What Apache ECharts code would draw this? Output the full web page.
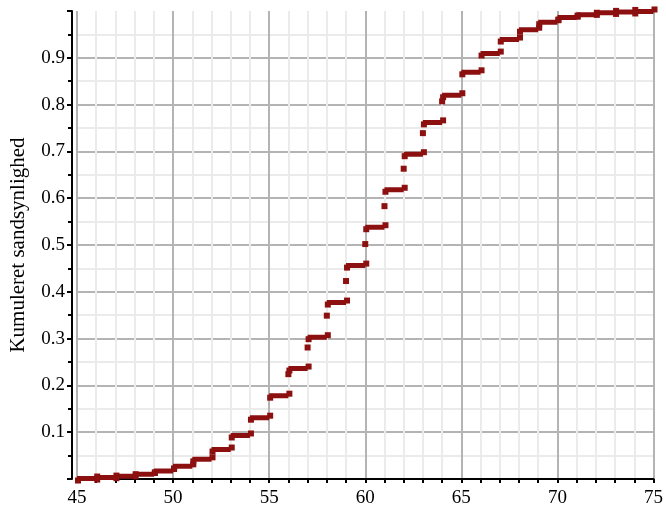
<!DOCTYPE html>
<html>
<head>
<meta charset="utf-8">
<script src="https://cdn.jsdelivr.net/npm/echarts@6/dist/echarts.min.js"></script>
<style>
  html, body { margin: 0; padding: 0; background: #fff; }
  #cdf-chart { width: 666px; height: 508px; }
</style>
</head>
<body>
<div id="cdf-chart"></div>
<script>
// trappernes startpunkter (heltal) og niveau for hvert trin
const stepStart = [45, 46, 47, 48, 49, 50, 51, 52, 53, 54, 55, 56, 57, 58, 59,
  60, 61, 62, 63, 64, 65, 66, 67, 68, 69, 70, 71, 72, 73, 74];
const stepLevel = [0.001, 0.003, 0.006, 0.010, 0.017, 0.027, 0.042, 0.063, 0.093, 0.131,
  0.178, 0.236, 0.303, 0.377, 0.456, 0.538, 0.618, 0.694, 0.762, 0.820,
  0.869, 0.909, 0.939, 0.960, 0.976, 0.986, 0.992, 0.996, 0.998, 0.999];
// enkeltpunkter midt i de store spring
const jumpX = [56, 57, 58, 59, 60, 61, 62, 63, 64];
const jumpY = [0.224, 0.281, 0.349, 0.423, 0.502, 0.583, 0.663, 0.739, 0.807];

const xMin = 45, xMax = 75, xStep = 5;
const yMin = 0, yMax = 1, yStep = 0.1;

const red = "#8c1010";
const font = "Liberation Serif";

let chart = echarts.init(document.getElementById("cdf-chart"));

// vandrette stykker, brudt med "-" så der ikke tegnes lodrette linjer.
// endepunkterne vises som små firkanter, lidt forskudt (start ned, slut op)
let stepData = [];
stepStart.forEach((x, i) => {
  stepData.push({ value: [x, stepLevel[i]], symbolOffset: [1, 2] });
  stepData.push({ value: [x + 1, stepLevel[i]], symbolOffset: [1, -2] });
  stepData.push("-");
});

let option = {
  animation: false,
  grid: {
    left: 76,
    right: 8,
    top: 11,
    bottom: 29
  },
  xAxis: {
    type: "value",
    min: xMin,
    max: xMax,
    interval: xStep,
    offset: 4,
    axisLine: { lineStyle: { color: "#000", width: 2 } },
    axisTick: { length: 4, lineStyle: { color: "#000", width: 2 } },
    minorTick: { show: true, splitNumber: 5, length: 4, lineStyle: { color: "#000", width: 2 } },
    axisLabel: { color: "#000", fontFamily: font, fontSize: 19, margin: 6 },
    splitLine: { lineStyle: { color: "#b4b4b4", width: 2 } },
    minorSplitLine: { show: true, lineStyle: { color: "#ebebeb", width: 2 } }
  },
  yAxis: {
    type: "value",
    min: yMin,
    max: yMax,
    interval: yStep,
    offset: 5,
    name: "Kumuleret sandsynlighed",
    nameLocation: "middle",
    nameGap: 43,
    nameTextStyle: { color: "#000", fontFamily: font, fontSize: 21 },
    axisLine: { show: true, lineStyle: { color: "#000", width: 2 } },
    axisTick: { show: true, length: 5, lineStyle: { color: "#000", width: 2 } },
    minorTick: { show: true, splitNumber: 2, length: 4, lineStyle: { color: "#000", width: 2 } },
    axisLabel: {
      color: "#000",
      fontFamily: font,
      fontSize: 19,
      margin: 7,
      showMinLabel: false,
      showMaxLabel: false
    },
    splitLine: { showMaxLine: false, lineStyle: { color: "#b4b4b4", width: 2 } },
    minorSplitLine: { show: true, lineStyle: { color: "#ebebeb", width: 2 } }
  },
  series: [
    {
      name: "trin",
      type: "line",
      data: stepData,
      connectNulls: false,
      showSymbol: true,
      showAllSymbol: true,
      symbol: "rect",
      symbolSize: 6,
      itemStyle: { color: red, opacity: 1 },
      lineStyle: { color: red, width: 5 },
      clip: false,
      z: 3
    },
    {
      name: "spring",
      type: "scatter",
      data: jumpX.map((x, i) => [x, jumpY[i]]),
      symbol: "rect",
      symbolSize: 6,
      itemStyle: { color: red, opacity: 1 },
      z: 4
    }
  ]
};

chart.setOption(option);
</script>
</body>
</html>
